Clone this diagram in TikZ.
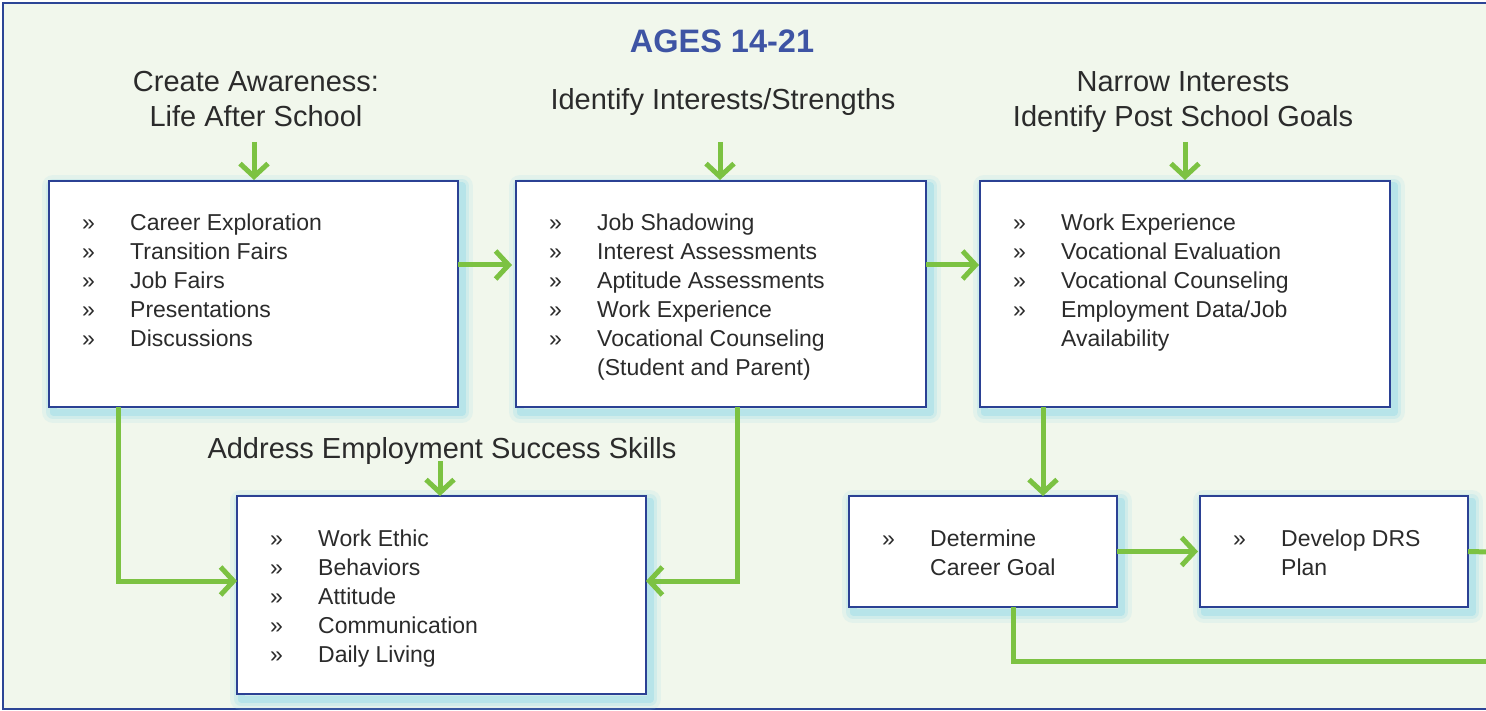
\documentclass[tikz,border=0pt]{standalone}
\usepackage{fontspec}
\setmainfont{Liberation Sans}
\usetikzlibrary{arrows.meta,shadows,calc}
\definecolor{bgc}{HTML}{F1F7EC}
\definecolor{framec}{HTML}{2C4596}
\definecolor{boxc}{HTML}{2B4194}
\definecolor{grn}{HTML}{7CC242}
\definecolor{titlec}{HTML}{3E54A4}
\definecolor{txt}{HTML}{2B2B2B}
\definecolor{glowc}{HTML}{8FD8E8}
\newcommand{\itemfont}{\fontsize{23}{29}\selectfont}
\newcommand{\headfont}{\fontsize{29}{35}\selectfont}
\newcommand{\bl}{\makebox[48pt][l]{»}}
\newcommand{\nb}{\hspace*{48pt}}
\tikzset{
  glow/.style={
    general shadow={shadow xshift=4pt, shadow yshift=-5pt, draw=glowc, line width=22pt, draw opacity=0.14, line join=round},
    general shadow={shadow xshift=4pt, shadow yshift=-5pt, draw=glowc, line width=14pt, draw opacity=0.22, line join=round},
    general shadow={shadow xshift=4pt, shadow yshift=-5pt, draw=glowc, line width=7pt, draw opacity=0.38, line join=round}},
  stepbox/.style={glow, draw=boxc, line width=2.6pt, fill=white, rectangle, inner sep=0pt, outer sep=0pt, anchor=north west},
  arr/.style={draw=grn, line width=5pt, -{Straight Barb[length=13pt,width=28pt]}},
  conn/.style={draw=grn, line width=5pt},
  items/.style={inner sep=0pt, anchor=base west, text=txt, font=\itemfont},
  heading/.style={inner sep=0pt, anchor=base, text=txt, font=\headfont},
}
\begin{document}
\begin{tikzpicture}[x=1pt,y=-1pt]
\useasboundingbox (0,0) rectangle (1486,711);
\begin{scope}
\clip (0,0) rectangle (1486,711);
\fill[bgc] (3,3) rectangle (1500,709);
\draw[framec, line width=2.6pt] (1500,3) -- (3,3) -- (3,709) -- (1500,709);

% title and headings
\node[inner sep=0pt, anchor=base, text=titlec, font=\fontsize{32.5}{38}\selectfont\bfseries] (title) at (722,53) {AGES 14-21};
\node[heading] (h1) at (256,92) {\begin{tabular}[t]{@{}c@{}}Create Awareness:\\Life After School\end{tabular}};
\node[heading] (h2) at (723,110) {Identify Interests/Strengths};
\node[heading] (h3) at (1183,92) {\begin{tabular}[t]{@{}c@{}}Narrow Interests\\Identify Post School Goals\end{tabular}};
\node[heading] (h4) at (442,458) {Address Employment Success Skills};

% boxes
\node[stepbox, minimum width=409pt, minimum height=226pt] (A) at (49,181) {};
\node[stepbox, minimum width=410pt, minimum height=226pt] (B) at (516,181) {};
\node[stepbox, minimum width=410pt, minimum height=226pt] (C) at (980,181) {};
\node[stepbox, minimum width=409pt, minimum height=198pt] (D) at (237,496) {};
\node[stepbox, minimum width=268pt, minimum height=111pt] (E) at (849,496) {};
\node[stepbox, minimum width=268pt, minimum height=111pt] (F) at (1200,496) {};

% item lists
\node[items] (Ai) at ($(A.north west)+(33,50)$) {\begin{tabular}[t]{@{}l@{}}
\bl Career Exploration\\ \bl Transition Fairs\\ \bl Job Fairs\\ \bl Presentations\\ \bl Discussions\end{tabular}};
\node[items] (Bi) at ($(B.north west)+(33,50)$) {\begin{tabular}[t]{@{}l@{}}
\bl Job Shadowing\\ \bl Interest Assessments\\ \bl Aptitude Assessments\\ \bl Work Experience\\ \bl Vocational Counseling\\ \nb (Student and Parent)\end{tabular}};
\node[items] (Ci) at ($(C.north west)+(33,50)$) {\begin{tabular}[t]{@{}l@{}}
\bl Work Experience\\ \bl Vocational Evaluation\\ \bl Vocational Counseling\\ \bl Employment Data/Job\\ \nb Availability\end{tabular}};
\node[items] (Di) at ($(D.north west)+(33,50)$) {\begin{tabular}[t]{@{}l@{}}
\bl Work Ethic\\ \bl Behaviors\\ \bl Attitude\\ \bl Communication\\ \bl Daily Living\end{tabular}};
\node[items] (Ei) at ($(E.north west)+(33,50)$) {\begin{tabular}[t]{@{}l@{}}
\bl Determine\\ \nb Career Goal\end{tabular}};
\node[items] (Fi) at ($(F.north west)+(33,50)$) {\begin{tabular}[t]{@{}l@{}}
\bl Develop DRS\\ \nb Plan\end{tabular}};

% free ends
\coordinate (s1) at (254,142);
\coordinate (s2) at (720,142);
\coordinate (s3) at (1185,142);
\coordinate (s4) at (440,461);
\coordinate (endR1) at (1490,552);
\coordinate (endR2) at (1490,661);

% arrows from headings
\draw[arr] (s1) -- ([yshift=1pt]s1 |- A.north);
\draw[arr] (s2) -- ([yshift=1pt]s2 |- B.north);
\draw[arr] (s3) -- ([yshift=1pt]s3 |- C.north);
\draw[arr] (s4) -- (s4 |- D.north);

% horizontal arrows
\draw[arr] (A.east |- 0,265) -- ([xshift=-4pt]B.west |- 0,265);
\draw[arr] (B.east |- 0,265) -- ([xshift=-1pt]C.west |- 0,265);
\draw[arr] (E.east) -- ([xshift=-2pt]F.west);
\draw[conn] (F.east) -- (endR1);

% elbow connectors
\draw[arr] (118,0 |- A.south) -- (118,581) -- (D.west |- 0,581);
\draw[arr] (737,0 |- B.south) -- (737,581) -- (D.east |- 0,581);
\draw[arr] (1043,0 |- C.south) -- (1043,0 |- E.north);
\draw[conn] (1013,0 |- E.south) -- (1013,661) -- (endR2);
\end{scope}
\end{tikzpicture}
\end{document}
